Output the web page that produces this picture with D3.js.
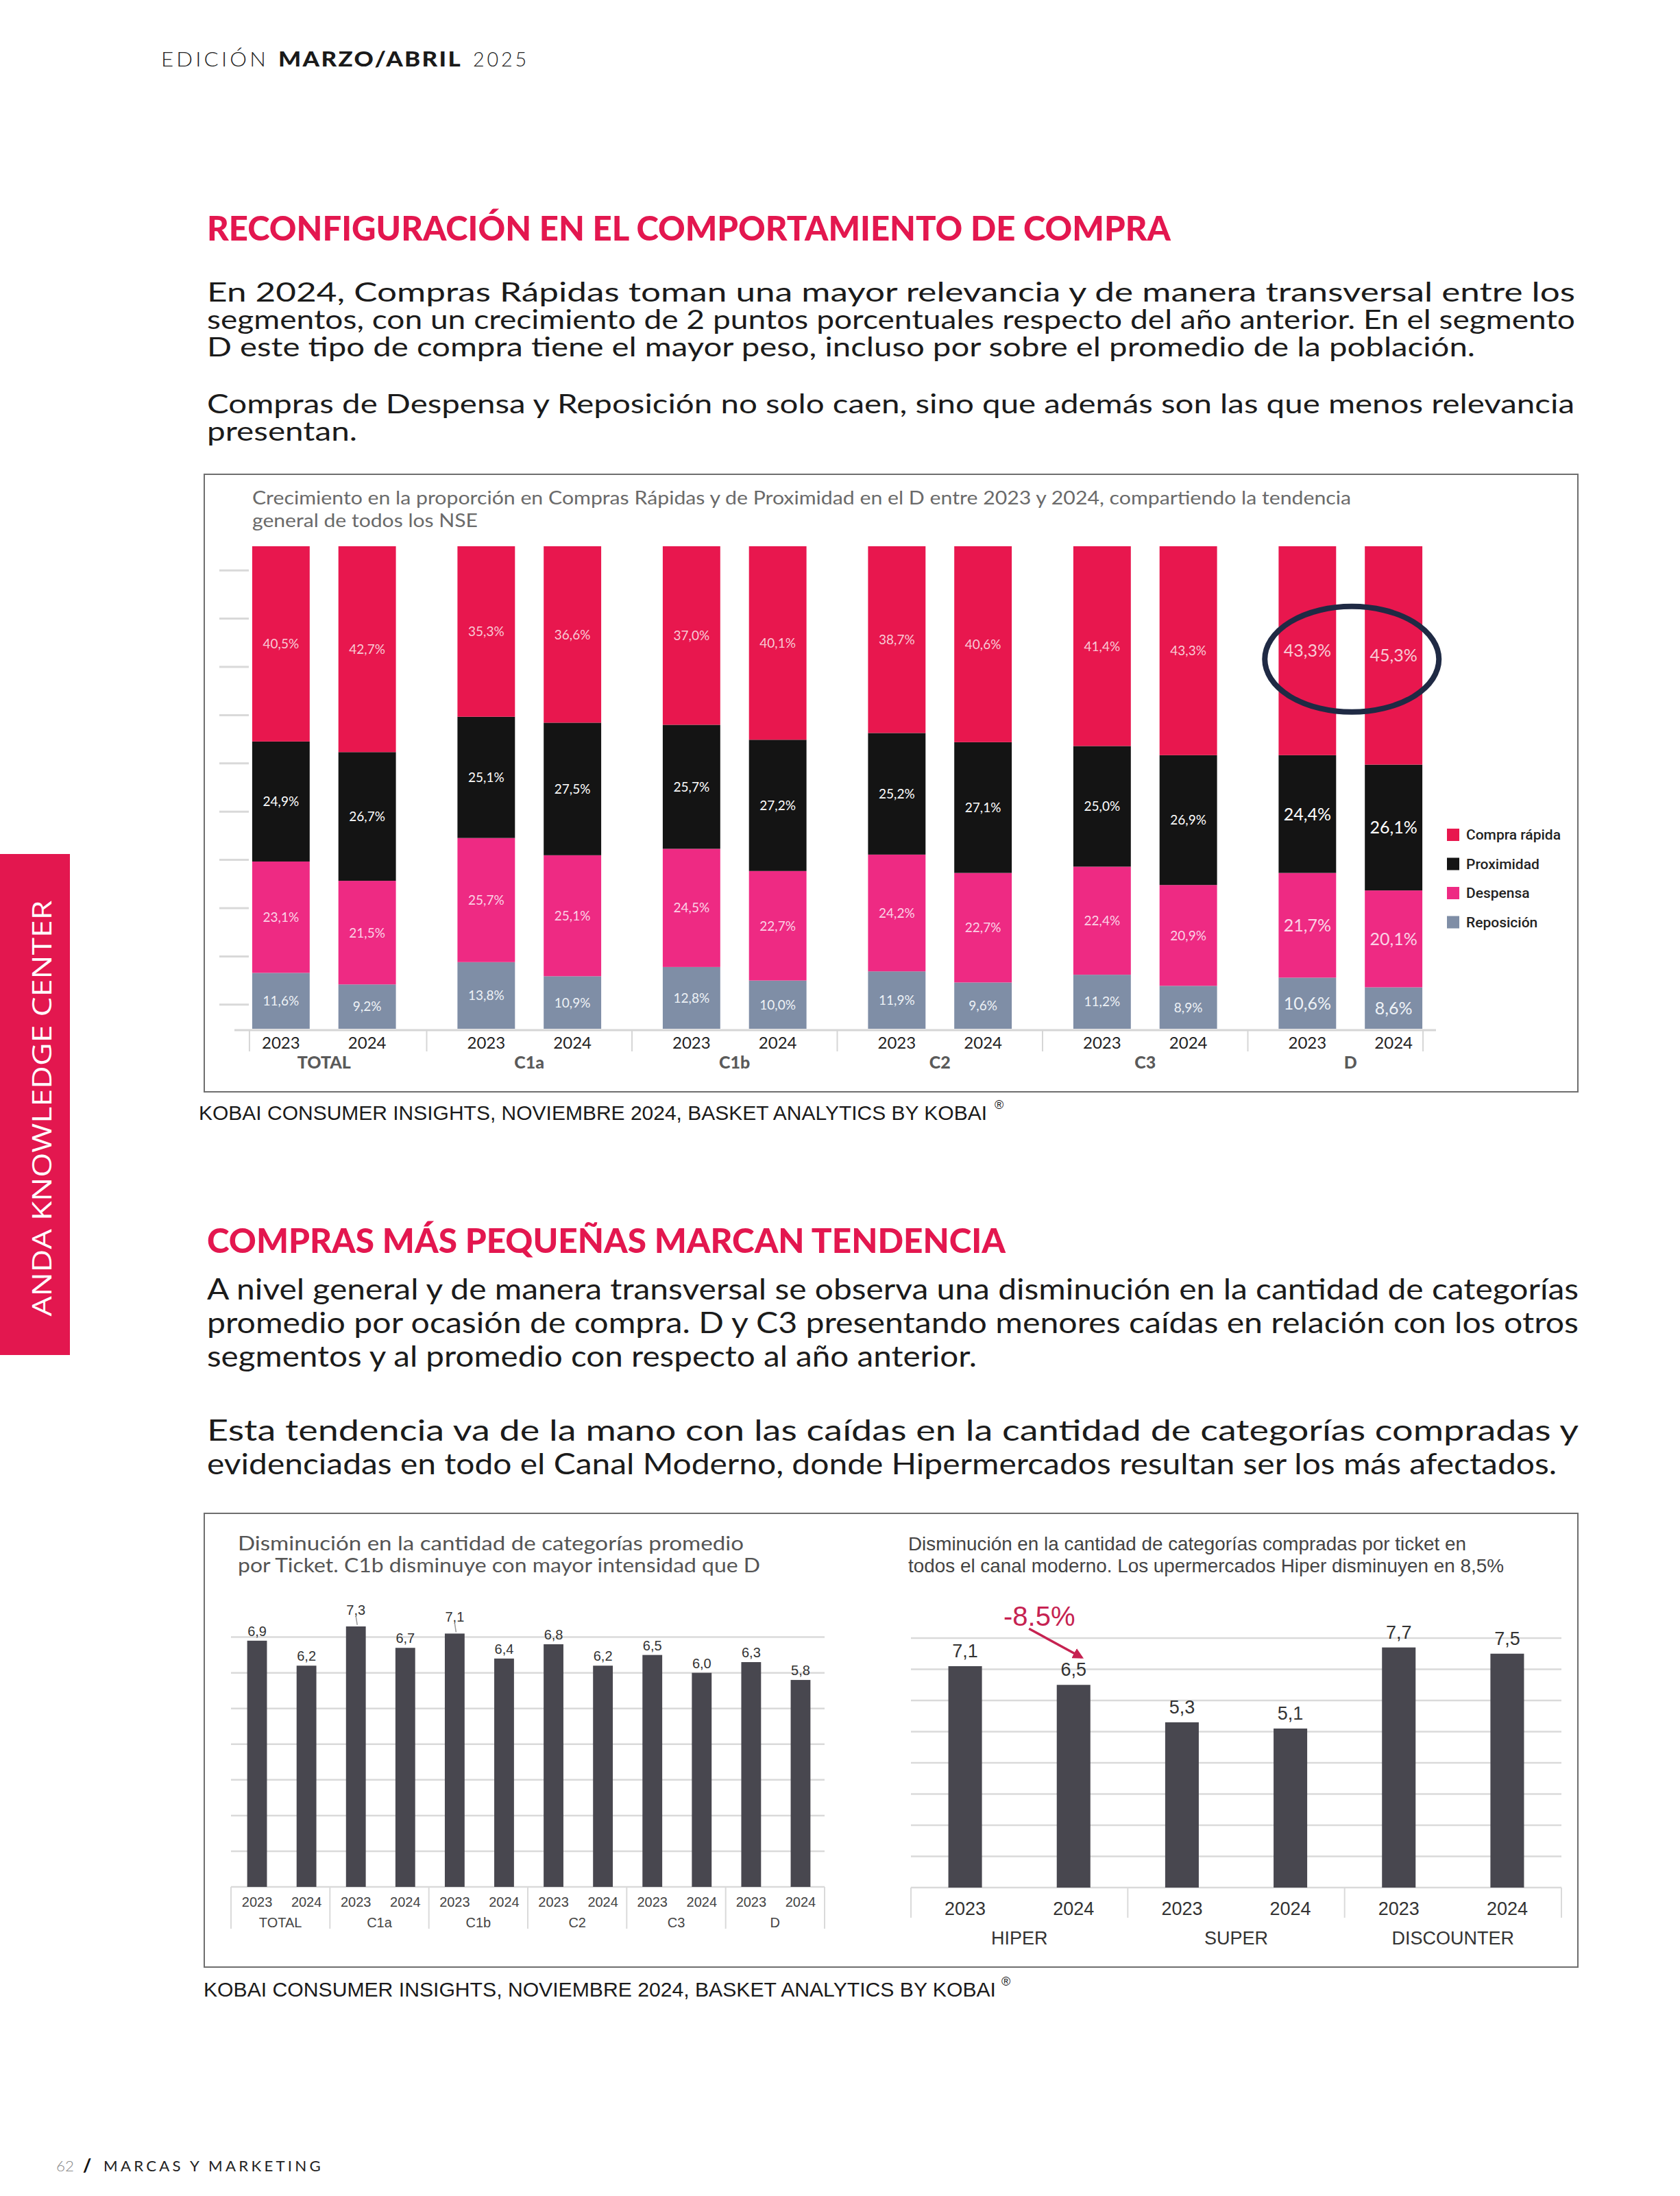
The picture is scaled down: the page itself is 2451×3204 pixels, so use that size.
<!DOCTYPE html>
<html>
<head>
<meta charset="utf-8">
<script src="https://cdn.jsdelivr.net/npm/d3@7"></script>
<style>
  body { margin: 0; background: #fff; }
  svg { display: block; }
</style>
</head>
<body>
<svg id="page"></svg>
<script>
// ---- chart 1: tipo de compra por NSE ----
const segments = ["TOTAL", "C1a", "C1b", "C2", "C3", "D"];
const years = ["2023", "2024"];
const tipos = ["Compra rápida", "Proximidad", "Despensa", "Reposición"];
// one value per bar: TOTAL 2023, TOTAL 2024, C1a 2023, ...
const compraRapida = [40.5, 42.7, 35.3, 36.6, 37.0, 40.1, 38.7, 40.6, 41.4, 43.3, 43.3, 45.3];
const proximidad = [24.9, 26.7, 25.1, 27.5, 25.7, 27.2, 25.2, 27.1, 25.0, 26.9, 24.4, 26.1];
const despensa = [23.1, 21.5, 25.7, 25.1, 24.5, 22.7, 24.2, 22.7, 22.4, 20.9, 21.7, 20.1];
const reposicion = [11.6, 9.2, 13.8, 10.9, 12.8, 10.0, 11.9, 9.6, 11.2, 8.9, 10.6, 8.6];
const shareTicks = [5, 15, 25, 35, 45, 55, 65, 75, 85, 95];

// ---- chart 2: categorias por ticket ----
const categoriasTicket = [6.9, 6.2, 7.3, 6.7, 7.1, 6.4, 6.8, 6.2, 6.5, 6.0, 6.3, 5.8];
const ticketTicks = [0, 1, 2, 3, 4, 5, 6, 7];

// ---- chart 3: categorias por canal ----
const canales = ["HIPER", "SUPER", "DISCOUNTER"];
const categoriasCanal = [7.1, 6.5, 5.3, 5.1, 7.7, 7.5];
const canalTicks = [0, 1, 2, 3, 4, 5, 6, 7, 8];

// ---- page text ----
const para1 = [
  "En 2024, Compras Rápidas toman una mayor relevancia y de manera transversal entre los",
  "segmentos, con un crecimiento de 2 puntos porcentuales respecto del año anterior. En el segmento",
  "D este tipo de compra tiene el mayor peso, incluso por sobre el promedio de la población."
];
const para2 = [
  "Compras de Despensa y Reposición no solo caen, sino que además son las que menos relevancia",
  "presentan."
];
const para3 = [
  "A nivel general y de manera transversal se observa una disminución en la cantidad de categorías",
  "promedio por ocasión de compra. D y C3 presentando menores caídas en relación con los otros",
  "segmentos y al promedio con respecto al año anterior."
];
const para4 = [
  "Esta tendencia va de la mano con las caídas en la cantidad de categorías compradas y",
  "evidenciadas en todo el Canal Moderno, donde Hipermercados resultan ser los más afectados."
];

const W = 2451, H = 3204;
const crimson = "#E3174F";
const ink = "#1B1B1B";
const narrow = "'Liberation Sans Narrow', 'Arial Narrow', 'Liberation Sans', sans-serif";
const arial = "'Liberation Sans', Arial, sans-serif";

const es = d3.formatLocale({ decimal: ",", thousands: ".", grouping: [3], currency: ["$", ""], minus: "-" });
const fmt1 = es.format(".1f");
const en = d3.formatLocale({ decimal: ".", thousands: ",", grouping: [3], currency: ["$", ""], minus: "-" });

const svg = d3.select("#page").attr("width", W).attr("height", H);
svg.append("rect").attr("width", W).attr("height", H).attr("fill", "#fff");

function label(g, x, y, s, o = {}) {
  const t = g.append("text")
    .attr("x", x)
    .attr("y", y)
    .attr("font-family", o.family || "Lato")
    .attr("font-size", o.size || 20)
    .attr("font-weight", o.weight || 400)
    .attr("fill", o.fill || ink)
    .attr("text-anchor", o.anchor || "start")
    .text(s);
  if (o.ls) t.attr("letter-spacing", o.ls);
  if (o.len) t.attr("textLength", o.len).attr("lengthAdjust", "spacingAndGlyphs");
  return t;
}

function paragraph(lines, widths, x, y0, lead, size) {
  lines.forEach((s, i) => {
    label(svg, x, y0 + i * lead, s, { size: size, fill: ink, len: widths[i] });
  });
}

// Header
label(svg, 235, 97, "EDICIÓN", { size: 30, weight: 300, ls: 4, len: 157, fill: "#222" });
label(svg, 406, 97, "MARZO/ABRIL", { size: 30, weight: 900, ls: 2, len: 268, fill: "#1a1a1a" });
label(svg, 690, 97, "2025", { size: 30, weight: 300, ls: 4, len: 82, fill: "#222" });

// Side tab
svg.append("rect").attr("x", 0).attr("y", 1246).attr("width", 102).attr("height", 731).attr("fill", crimson);
svg.append("text")
  .attr("transform", "translate(75,1617) rotate(-90)")
  .attr("text-anchor", "middle")
  .attr("font-family", "'Open Sans', sans-serif")
  .attr("font-size", 38)
  .attr("font-weight", 500)
  .attr("fill", "#fff")
  .attr("textLength", 607)
  .attr("lengthAdjust", "spacingAndGlyphs")
  .text("ANDA KNOWLEDGE CENTER");

// Section 1 text
label(svg, 302, 351, "RECONFIGURACIÓN EN EL COMPORTAMIENTO DE COMPRA", { size: 50, weight: 900, fill: crimson, len: 1406 });
paragraph(para1, [1996, 1996, 1850], 302, 440, 40, 39);
paragraph(para2, [1995, 219], 302, 603, 40, 39);

// ================= Chart 1 =================
const c1 = svg.append("g");
c1.append("rect")
  .attr("x", 298).attr("y", 692).attr("width", 2004).attr("height", 901)
  .attr("fill", "none").attr("stroke", "#6E6E6E").attr("stroke-width", 2);

label(c1, 368, 736, "Crecimiento en la proporción en Compras Rápidas y de Proximidad en el D entre 2023 y 2024, compartiendo la tendencia",
  { size: 26, fill: "#6A6A6A", len: 1603 });
label(c1, 368, 769, "general de todos los NSE", { size: 26, fill: "#6A6A6A", len: 329 });

const rows = compraRapida.map((v, i) => ({
  segment: segments[Math.floor(i / 2)],
  year: years[i % 2],
  "Compra rápida": v,
  "Proximidad": proximidad[i],
  "Despensa": despensa[i],
  "Reposición": reposicion[i]
}));

const x0 = d3.scaleBand().domain(segments).range([323, 2120]);
const x1 = d3.scaleBand().domain(years).range([0, x0.bandwidth()]).paddingInner(0.333).paddingOuter(0.357);
const y1 = d3.scaleLinear().domain([0, 1]).range([1501, 797]);

const colors = { "Compra rápida": "#E8174E", "Proximidad": "#141414", "Despensa": "#EE2A83", "Reposición": "#7F8EA6" };
const labelColors = { "Compra rápida": "#F8CAD5", "Proximidad": "#FFFFFF", "Despensa": "#FBD3E6", "Reposición": "#EEF2F6" };

// left tick marks
c1.append("g")
  .selectAll("line")
  .data(shareTicks)
  .join("line")
  .attr("x1", 320).attr("x2", 363)
  .attr("y1", (d) => y1(d / 100)).attr("y2", (d) => y1(d / 100))
  .attr("stroke", "#D9D9D9").attr("stroke-width", 3);

const stack = d3.stack()
  .keys(tipos.slice().reverse())
  .offset(d3.stackOffsetExpand)(rows);

const layers = c1.append("g")
  .selectAll("g")
  .data(stack)
  .join("g")
  .attr("fill", (d) => colors[d.key]);

layers.selectAll("rect")
  .data((d) => d)
  .join("rect")
  .attr("x", (d) => x0(d.data.segment) + x1(d.data.year))
  .attr("y", (d) => y1(d[1]))
  .attr("width", x1.bandwidth())
  .attr("height", (d) => y1(d[0]) - y1(d[1]));

// segment labels
stack.forEach((layer) => {
  c1.append("g")
    .selectAll("text")
    .data(layer)
    .join("text")
    .attr("x", (d) => x0(d.data.segment) + x1(d.data.year) + x1.bandwidth() / 2)
    .attr("y", (d) => y1((d[0] + d[1]) / 2))
    .attr("dy", "0.36em")
    .attr("text-anchor", "middle")
    .attr("font-family", "Lato")
    .attr("font-size", (d) => (d.data.segment === "D" ? 25 : 19))
    .attr("fill", labelColors[layer.key])
    .text((d) => fmt1(d.data[layer.key]) + "%");
});

// axis line + separators
c1.append("line")
  .attr("x1", 342).attr("x2", 2095).attr("y1", 1503).attr("y2", 1503)
  .attr("stroke", "#D6D6D6").attr("stroke-width", 3);

const sepX = segments.slice(1).map((s) => x0(s));
sepX.unshift(x0(segments[0]) + x1(years[0]) - 4);
sepX.push(x0(segments[segments.length - 1]) + x1(years[1]) + x1.bandwidth() + 1);
c1.append("g")
  .selectAll("line")
  .data(sepX)
  .join("line")
  .attr("x1", (d) => d).attr("x2", (d) => d)
  .attr("y1", 1503).attr("y2", 1534)
  .attr("stroke", "#D6D6D6").attr("stroke-width", 2);

// year + segment labels
c1.append("g")
  .selectAll("text")
  .data(rows)
  .join("text")
  .attr("x", (d) => x0(d.segment) + x1(d.year) + x1.bandwidth() / 2)
  .attr("y", 1530)
  .attr("text-anchor", "middle")
  .attr("font-family", "Lato")
  .attr("font-size", 24)
  .attr("fill", "#222")
  .text((d) => d.year);

c1.append("g")
  .selectAll("text")
  .data(segments)
  .join("text")
  .attr("x", (d) => x0(d) + x0.bandwidth() / 2)
  .attr("y", 1559)
  .attr("text-anchor", "middle")
  .attr("font-family", "Lato")
  .attr("font-weight", 900)
  .attr("font-size", 25)
  .attr("fill", "#5A5A5A")
  .text((d) => d);

// highlight ring around D compra rápida
const dTop = stack[stack.length - 1].filter((d) => d.data.segment === "D");
c1.append("ellipse")
  .attr("cx", x0("D") + x0.bandwidth() / 2 + 2)
  .attr("cy", d3.mean(dTop, (d) => y1((d[0] + d[1]) / 2)) + 9)
  .attr("rx", 127)
  .attr("ry", 77)
  .attr("fill", "none")
  .attr("stroke", "#1F2A44")
  .attr("stroke-width", 8);

// legend
const legend = c1.append("g").attr("transform", "translate(2111,1209)");
tipos.forEach((t, i) => {
  const row = legend.append("g").attr("transform", `translate(0, ${i * 42.5})`);
  row.append("rect").attr("width", 18).attr("height", 18).attr("fill", colors[t]);
  row.append("text")
    .attr("x", 28)
    .attr("y", 16)
    .attr("font-family", "Roboto")
    .attr("font-weight", 500)
    .attr("font-size", 21)
    .attr("fill", "#222")
    .text(t);
});

// source
label(svg, 290, 1634, "KOBAI CONSUMER INSIGHTS, NOVIEMBRE 2024, BASKET ANALYTICS BY KOBAI", { family: arial, size: 29, fill: "#1a1a1a", len: 1150 });
label(svg, 1451, 1618, "®", { family: arial, size: 18, fill: "#1a1a1a" });

// Section 2 text
label(svg, 302, 1828, "COMPRAS MÁS PEQUEÑAS MARCAN TENDENCIA", { size: 50, weight: 900, fill: crimson, len: 1165 });
paragraph(para3, [2001, 2001, 1123], 302, 1896, 49, 42);
paragraph(para4, [2001, 1969], 302, 2102, 49, 42);

// ================= Charts 2 & 3 (one frame) =================
svg.append("rect")
  .attr("x", 298).attr("y", 2208).attr("width", 2004).attr("height", 662)
  .attr("fill", "none").attr("stroke", "#6E6E6E").attr("stroke-width", 2);

const barFill = "#48474F";
const gridCol = "#DADADA";

// ---- chart 2 ----
const c2 = svg.append("g");
label(c2, 347, 2262, "Disminución en la cantidad de categorías promedio", { size: 29, fill: "#555", len: 738 });
label(c2, 347, 2294, "por Ticket. C1b disminuye con mayor intensidad que D", { size: 29, fill: "#555", len: 762 });

const ticketRows = categoriasTicket.map((v, i) => ({
  key: segments[Math.floor(i / 2)] + " " + years[i % 2],
  segment: segments[Math.floor(i / 2)],
  year: years[i % 2],
  value: v
}));

const xA = d3.scaleBand().domain(ticketRows.map((d) => d.key)).range([339, 1204]).paddingInner(0.6).paddingOuter(0.3);
const xAg = d3.scaleBand().domain(segments).range([337, 1203]);
const yA = d3.scaleLinear().domain([0, 7]).range([2753, 2388.6]);

c2.append("g")
  .selectAll("line")
  .data(ticketTicks)
  .join("line")
  .attr("x1", 337).attr("x2", 1203)
  .attr("y1", (d) => yA(d)).attr("y2", (d) => yA(d))
  .attr("stroke", gridCol).attr("stroke-width", 2.5);

c2.append("g")
  .selectAll("rect")
  .data(ticketRows)
  .join("rect")
  .attr("x", (d) => xA(d.key))
  .attr("y", (d) => yA(d.value))
  .attr("width", xA.bandwidth())
  .attr("height", (d) => yA(0) - yA(d.value))
  .attr("fill", barFill);

// labels above the gridline get a small leader
c2.append("g")
  .selectAll("line")
  .data(ticketRows.filter((d) => d.value > 7))
  .join("line")
  .attr("x1", (d) => xA(d.key) + xA.bandwidth() / 2)
  .attr("x2", (d) => xA(d.key) + xA.bandwidth() / 2 + 2)
  .attr("y1", (d) => yA(d.value) - 15)
  .attr("y2", (d) => yA(d.value) - 2)
  .attr("stroke", "#999").attr("stroke-width", 1.5);

c2.append("g")
  .selectAll("text")
  .data(ticketRows)
  .join("text")
  .attr("x", (d) => xA(d.key) + xA.bandwidth() / 2)
  .attr("y", (d) => yA(d.value) - (d.value > 7 ? 17 : 7))
  .attr("text-anchor", "middle")
  .attr("font-family", narrow)
  .attr("font-size", 20)
  .attr("fill", "#333")
  .text((d) => fmt1(d.value));

c2.append("g")
  .selectAll("line")
  .data(segments.map((s) => xAg(s)).concat([1203]))
  .join("line")
  .attr("x1", (d) => d).attr("x2", (d) => d)
  .attr("y1", 2753).attr("y2", 2814)
  .attr("stroke", gridCol).attr("stroke-width", 2);

c2.append("g")
  .selectAll("text")
  .data(ticketRows)
  .join("text")
  .attr("x", (d) => xA(d.key) + xA.bandwidth() / 2)
  .attr("y", 2782)
  .attr("text-anchor", "middle")
  .attr("font-family", narrow)
  .attr("font-size", 20)
  .attr("fill", "#444")
  .text((d) => d.year);

c2.append("g")
  .selectAll("text")
  .data(segments)
  .join("text")
  .attr("x", (d) => xAg(d) + xAg.bandwidth() / 2)
  .attr("y", 2812)
  .attr("text-anchor", "middle")
  .attr("font-family", narrow)
  .attr("font-size", 20)
  .attr("fill", "#444")
  .text((d) => d);

// ---- chart 3 ----
const c3 = svg.append("g");
label(c3, 1325, 2262, "Disminución en la cantidad de categorías compradas por ticket en", { family: narrow, size: 28, fill: "#444", len: 814 });
label(c3, 1325, 2294, "todos el canal moderno. Los upermercados Hiper disminuyen en 8,5%", { family: narrow, size: 28, fill: "#444", len: 869 });

const canalRows = categoriasCanal.map((v, i) => ({
  key: canales[Math.floor(i / 2)] + " " + years[i % 2],
  canal: canales[Math.floor(i / 2)],
  year: years[i % 2],
  value: v
}));

const xB = d3.scaleBand().domain(canalRows.map((d) => d.key)).range([1329, 2278]).paddingInner(0.69).paddingOuter(0.345);
const xBg = d3.scaleBand().domain(canales).range([1329, 2278]);
const yB = d3.scaleLinear().domain([0, 8]).range([2754, 2390]);

c3.append("g")
  .selectAll("line")
  .data(canalTicks)
  .join("line")
  .attr("x1", 1329).attr("x2", 2278)
  .attr("y1", (d) => yB(d)).attr("y2", (d) => yB(d))
  .attr("stroke", gridCol).attr("stroke-width", 2.5);

c3.append("g")
  .selectAll("rect")
  .data(canalRows)
  .join("rect")
  .attr("x", (d) => xB(d.key))
  .attr("y", (d) => yB(d.value))
  .attr("width", xB.bandwidth())
  .attr("height", (d) => yB(0) - yB(d.value))
  .attr("fill", barFill);

c3.append("g")
  .selectAll("text")
  .data(canalRows)
  .join("text")
  .attr("x", (d) => xB(d.key) + xB.bandwidth() / 2)
  .attr("y", (d) => yB(d.value) - 13)
  .attr("text-anchor", "middle")
  .attr("font-family", narrow)
  .attr("font-size", 27)
  .attr("fill", "#333")
  .text((d) => fmt1(d.value));

c3.append("g")
  .selectAll("line")
  .data(canales.map((c) => xBg(c)).concat([2278]))
  .join("line")
  .attr("x1", (d) => d).attr("x2", (d) => d)
  .attr("y1", 2754).attr("y2", 2798)
  .attr("stroke", gridCol).attr("stroke-width", 2);

c3.append("g")
  .selectAll("text")
  .data(canalRows)
  .join("text")
  .attr("x", (d) => xB(d.key) + xB.bandwidth() / 2)
  .attr("y", 2794)
  .attr("text-anchor", "middle")
  .attr("font-family", narrow)
  .attr("font-size", 27)
  .attr("fill", "#333")
  .text((d) => d.year);

c3.append("g")
  .selectAll("text")
  .data(canales)
  .join("text")
  .attr("x", (d) => xBg(d) + xBg.bandwidth() / 2)
  .attr("y", 2837)
  .attr("text-anchor", "middle")
  .attr("font-family", narrow)
  .attr("font-size", 27)
  .attr("fill", "#333")
  .text((d) => d);

// Hiper drop annotation
const hiper = canalRows.filter((d) => d.canal === "HIPER");
const drop = (hiper[1].value / hiper[0].value - 1) * 100;
const hx = xB(hiper[1].key) + xB.bandwidth() / 2;
const hy = yB(hiper[1].value);
const redAnn = "#C62251";

svg.append("defs").append("marker")
  .attr("id", "arrow")
  .attr("viewBox", "0 0 10 10")
  .attr("refX", 8).attr("refY", 5)
  .attr("markerUnits", "userSpaceOnUse")
  .attr("markerWidth", 16).attr("markerHeight", 16)
  .attr("orient", "auto")
  .append("path")
  .attr("d", "M0,0 L10,5 L0,10 z")
  .attr("fill", redAnn);

c3.append("line")
  .attr("x1", hx - 65).attr("y1", hy - 82)
  .attr("x2", hx + 12).attr("y2", hy - 40)
  .attr("stroke", redAnn).attr("stroke-width", 3.5)
  .attr("marker-end", "url(#arrow)");

label(c3, hx - 50, hy - 86, en.format(".1f")(drop) + "%", { family: narrow, size: 40, fill: redAnn, anchor: "middle" });

// source 2
label(svg, 297, 2913, "KOBAI CONSUMER INSIGHTS, NOVIEMBRE 2024, BASKET ANALYTICS BY KOBAI", { family: arial, size: 29, fill: "#1a1a1a", len: 1156 });
label(svg, 1461, 2897, "®", { family: arial, size: 18, fill: "#1a1a1a" });

// Footer
label(svg, 82, 3168, "62", { size: 22, weight: 300, fill: "#888", len: 26 });
label(svg, 121, 3169, "/", { size: 26, weight: 900, fill: "#111" });
label(svg, 151, 3168, "MARCAS Y MARKETING", { size: 21, weight: 400, ls: 4, fill: "#222", len: 321 });
</script>
</body>
</html>
